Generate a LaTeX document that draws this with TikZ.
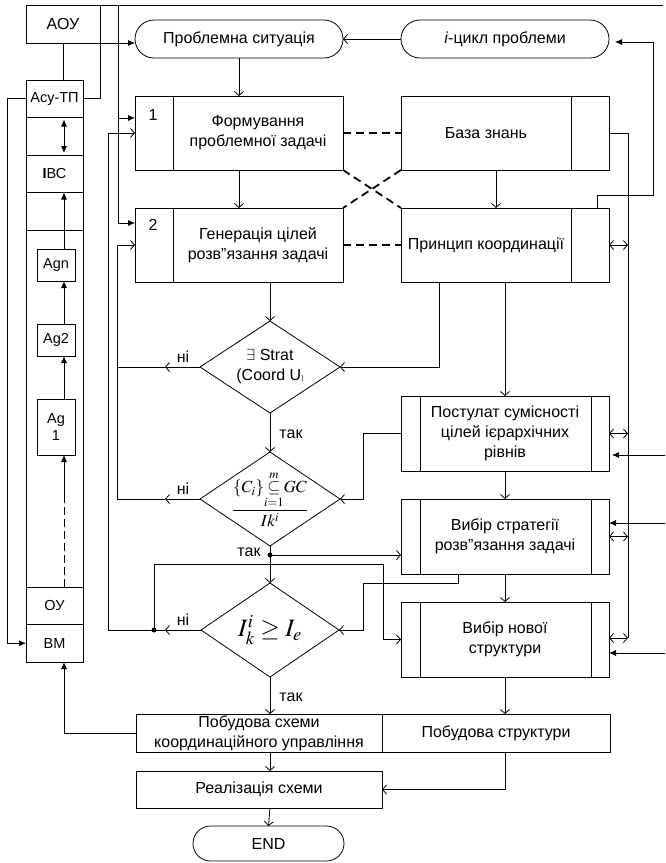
\documentclass[tikz,border=0pt]{standalone}
\usepackage{mathptmx}
\usepackage{fontspec}
\setmainfont{Liberation Sans}
\usepackage{amsmath}
\usetikzlibrary{arrows.meta,shapes.geometric,shapes.misc}
\tikzset{
  ln/.style={line width=0.8pt},
  bx/.style={draw, line width=0.8pt, rectangle, inner sep=0pt, outer sep=0pt, align=center, font=\fontsize{16}{20}\selectfont},
  lbx/.style={bx, font=\fontsize{14.5}{17}\selectfont},
  tx/.style={align=center, inner sep=0pt, font=\fontsize{16}{20}\selectfont},
  term/.style={draw, line width=0.8pt, rounded rectangle, inner sep=0pt, outer sep=0pt, font=\fontsize{16}{20}\selectfont},
  dia/.style={draw, line width=0.8pt, diamond, inner sep=0pt, outer sep=0pt},
  oa/.style={-{Straight Barb[length=4pt,width=9pt]}},
  oo/.style={{Straight Barb[length=4pt,width=9pt]}-{Straight Barb[length=4pt,width=9pt]}},
  fa/.style={-{Latex[length=7pt,width=6pt]}},
  ff/.style={{Latex[length=7pt,width=6pt]}-{Latex[length=7pt,width=6pt]}},
  thickdash/.style={line width=1.8pt, dash pattern=on 8pt off 5pt},
  thindash/.style={line width=0.8pt, dash pattern=on 8pt off 4pt},
  dotmark/.style={circle, fill, inner sep=0pt, minimum size=5pt}
}
\begin{document}
\begin{tikzpicture}[x=1pt,y=-1pt]
\useasboundingbox (0,0) rectangle (665,863);
% helper coordinates
\coordinate (x64) at (64,0);
\coordinate (x7) at (7,0);
\coordinate (x108) at (108,0);
\coordinate (x117) at (117,0);
\coordinate (x363) at (363,0);
\coordinate (topR) at (663,5);
\coordinate (t118) at (118,5);
\coordinate (c195) at (653,195);
\coordinate (busB) at (628,638);
\coordinate (r1) at (665,455);
\coordinate (r2) at (665,523);
\coordinate (r3) at (665,653);
\coordinate (n1) at (165,367);
\coordinate (n2) at (165,499);
\coordinate (n3) at (165,630);
\coordinate (k1) at (383,564);
\coordinate (k2) at (363,583);
\coordinate (dsh) at (64,495);

% left column
\node[bx, minimum width=74pt, minimum height=38pt] (aou) at (63,24) {АОУ};
\node[lbx, minimum width=57pt, minimum height=37.5pt] (asu) at (54.5,98.75) {Асу-ТП};
\node[lbx, minimum width=57pt, minimum height=37.5pt] (c2) at (54.5,136.25) {};
\node[lbx, minimum width=57pt, minimum height=37.5pt] (ibc) at (54.5,173.75) {\textbf{І}ВС};
\node[lbx, minimum width=57pt, minimum height=37.5pt] (c4) at (54.5,211.25) {};
\node[lbx, minimum width=57pt, minimum height=357pt] (cag) at (54.5,408.5) {};
\node[lbx, minimum width=57pt, minimum height=37.5pt] (oy) at (54.5,605.75) {ОУ};
\node[lbx, minimum width=57pt, minimum height=37.5pt] (bm) at (54.5,643.25) {ВМ};
\node[lbx, minimum width=38pt, minimum height=32pt] (agn) at (56,265) {Agn};
\node[lbx, minimum width=38pt, minimum height=32pt] (ag2) at (56,340) {Ag2};
\node[lbx, minimum width=38pt, minimum height=56pt] (ag1) at (56,427) {Ag\\1};

% main flow
\node[term, minimum width=208pt, minimum height=38pt] (ps) at (239,39) {Проблемна ситуація};
\node[term, minimum width=208pt, minimum height=38pt] (ic) at (505,39) {\textit{і}-цикл проблеми};
\node[bx, minimum width=208pt, minimum height=74pt] (b1) at (239,133) {};
\node[bx, minimum width=208pt, minimum height=74pt] (b2) at (239,245) {};
\node[bx, minimum width=208pt, minimum height=74pt] (bz) at (505,133) {};
\node[bx, minimum width=208pt, minimum height=74pt] (pk) at (505,245) {};
\node[tx] (b1t) at ([xshift=19pt]b1.center) {Формування\\проблемної задачі};
\node[tx] (b1n) at ([xshift=-86pt,yshift=18pt]b1.center) {1};
\node[tx] (b2t) at ([xshift=19pt]b2.center) {Генерація цілей\\розв”язання задачі};
\node[tx] (b2n) at ([xshift=-86pt,yshift=20pt]b2.center) {2};
\node[tx] (bzt) at ([xshift=-19pt]bz.center) {База знань};
\node[tx] (pkt) at ([xshift=-19pt]pk.center) {Принцип координації};
\draw[ln] ([xshift=38pt]b1.north west) -- ([xshift=38pt]b1.south west);
\draw[ln] ([xshift=38pt]b2.north west) -- ([xshift=38pt]b2.south west);
\draw[ln] ([xshift=-38pt]bz.north east) -- ([xshift=-38pt]bz.south east);
\draw[ln] ([xshift=-38pt]pk.north east) -- ([xshift=-38pt]pk.south east);

\node[dia, minimum width=140pt, minimum height=92pt] (d1) at (270,367) {};
\node[tx] (d1t) at (d1) {$\exists$ Strat\\(Coord U{\scriptsize)}};
\node[dia, minimum width=140pt, minimum height=94pt] (d2) at (270,499) {};
\node[inner sep=0pt] (d2t) at (d2) {\fontsize{17}{20}\selectfont $\dfrac{\left\{C_i\right\}\!\mathop{\subseteq}\limits_{i=1}^{m}\!GC}{Ik^i}$};
\node[dia, minimum width=138pt, minimum height=94pt] (d3) at (270,630) {};
\node[inner sep=0pt] (d3t) at (d3) {\fontsize{25}{28}\selectfont $I_k^i \ge I_e$};

\node[bx, minimum width=208pt, minimum height=75pt] (pc) at (505,433.5) {Постулат сумісності\\цілей ієрархічних\\рівнів};
\node[bx, minimum width=208pt, minimum height=75pt] (vs) at (505,536.5) {Вибір стратегії\\розв”язання задачі};
\node[bx, minimum width=208pt, minimum height=75pt] (vn) at (505,639.5) {Вибір нової\\структури};
\foreach \b in {pc,vs,vn}{
  \draw[ln] ([xshift=19pt]\b.north west) -- ([xshift=19pt]\b.south west);
  \draw[ln] ([xshift=-18pt]\b.north east) -- ([xshift=-18pt]\b.south east);
}

\node[bx, minimum width=246pt, minimum height=38pt] (pbs) at (259,733) {Побудова схеми\\координаційного управління};
\node[bx, minimum width=228pt, minimum height=38pt] (pbt) at (496,733) {Побудова структури};
\node[bx, minimum width=246pt, minimum height=37pt] (rs) at (259,789.5) {Реалізація схеми};
\node[term, minimum width=151pt, minimum height=35pt] (end) at (268.5,843.5) {END};

% labels
\node[tx] (l1) at (183,357) {ні};
\node[tx] (l2) at (183,489) {ні};
\node[tx] (l3) at (183,620) {ні};
\node[tx] (l4) at (291,434) {так};
\node[tx] (l5) at (249,552) {так};
\node[tx] (l6) at (291,697) {так};

% left column connectors
\draw[ln] (aou.north west) -- (topR);
\draw[ln] (aou.north east) |- (asu.east);
\draw[ln,fa] (aou.south east) -- (ps.west |- aou.south east);
\draw[ln] (aou.south) -- (aou.south |- asu.north);
\draw[ln,fa] (t118) |- ([yshift=15pt]b1.west);
\draw[ln,fa] (t118) |- ([yshift=22pt]b2.west);
\draw[ln,fa] (asu.west) -- (asu.west -| x7) |- (bm.west);
\draw[ln,ff,shorten >=2pt,shorten <=2pt] (c2.north -| x64) -- (c2.south -| x64);
\draw[ln,fa] (agn.north -| x64) -- (ibc.south -| x64);
\draw[ln,fa] (ag2.north -| x64) -- (agn.south -| x64);
\draw[ln,fa] (ag1.north -| x64) -- (ag2.south -| x64);
\draw[thindash] (oy.north -| x64) -- (dsh);
\draw[ln,fa] (dsh) -- (ag1.south -| x64);
\draw[ln,fa] (pbs.west) -| (bm.south -| x64);

% main connectors
\draw[ln,oa] (ic.west) -- (ps.east);
\draw[ln,oa] (ps.south) -- (b1.north);
\draw[ln,oa] (b1.south) -- (b2.north);
\draw[ln,oa] (b2.south -| d1.north) -- (d1.north);
\draw[ln,oa] ([xshift=-9pt]bz.south) -- ([xshift=-9pt]pk.north);
\draw[ln,fa,shorten >=6pt] ([xshift=-12pt]pk.north east) |- (c195) |- ([yshift=-3pt]ic.east);
\draw[thickdash] (b1.east) -- (bz.west);
\draw[thickdash] (b2.east) -- (pk.west);
\draw[thickdash] (b1.south east) -- (pk.north west);
\draw[thickdash] (bz.south west) -- (b2.north east);
\draw[ln] (bz.east) -| (busB);
\draw[ln,oo] (pk.east) -- (pk.east -| busB);
\draw[ln,oo] (pc.east) -- (pc.east -| busB);
\draw[ln,oo] (vs.east) -- (vs.east -| busB);
\draw[ln,oo] ([yshift=1.5pt]vn.east) -- (busB);
\draw[ln,fa,shorten >=3pt] (r1) -- (r1 -| pc.east);
\draw[ln,fa] (r2) -- (r2 -| vs.east);
\draw[ln,fa] (r3) -- (r3 -| vn.east);

\draw[ln,oa] ([xshift=-66pt]pk.south) |- (d1.east);
\draw[ln,oa] (pk.south) -- (pc.north);
\draw[ln,oa] (d1.west) -- (n1);
\draw[ln] (n1) -- (n1 -| x117);
\draw[ln,oa] (d2.west) -- (n2);
\draw[ln,oa] (n2) -- (n2 -| x117) |- (b2.west);
\draw[ln,oa] (d1.south) -- (d2.north);

\node[dotmark] (dot1) at (270,555) {};
\node[dotmark] (dot2) at (154,630) {};
\draw[ln] (d2.south) -- (dot1.center);
\draw[ln,oa] (dot1.center) -- (d3.north);
\draw[ln,oa] (dot1.center) -- (dot1.center -| vs.west);
\draw[ln,oa] (dot2.center) |- (k1) |- (vn.west);
\draw[ln,oa] (d3.west) -- (n3);
\draw[ln,oa] (n3) -- (n3 -| x108) |- (b1.west);
\draw[ln,oa] (pc.west) -- (pc.west -| x363) |- (d2.east);
\draw[ln,oa] ([xshift=-47pt]vs.south) |- (k2) |- (d3.east);

\draw[ln,oa] (pc.south) -- (vs.north);
\draw[ln,oa] (vs.south) -- (vn.north);
\draw[ln,oa] (vn.south) -- (vn.south |- pbt.north);
\draw[ln,oa] (d3.south) -- (d3.south |- pbs.north);
\draw[ln,oa] (vn.south |- pbt.south) |- (rs.east);
\draw[ln,oa] (d3.south |- pbs.south) -- (d3.south |- rs.north);
\draw[ln,oa] (d3.south |- rs.south) -- (end.north);
\end{tikzpicture}
\end{document}
